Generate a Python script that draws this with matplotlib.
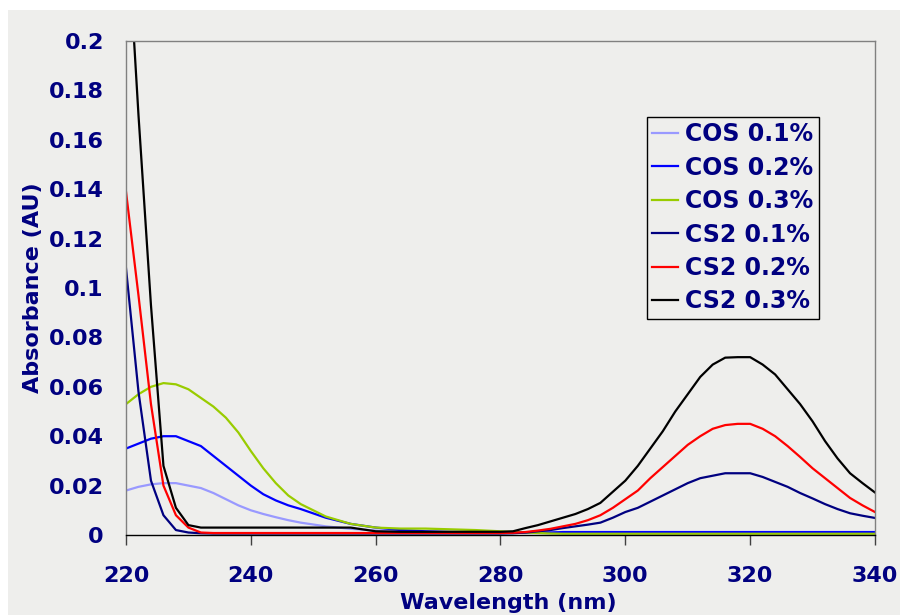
import numpy as np
import matplotlib.pyplot as plt
from matplotlib.patches import Rectangle

# Longitudes de onda (nm)
wavelength = [220, 222, 224, 226, 228, 230, 232, 234, 236, 238, 240, 242, 244, 246, 248,
              252, 256, 260, 264, 268, 272, 276, 280,
              282, 284, 286, 288, 290, 292, 294, 296, 298, 300, 302, 304, 306, 308, 310,
              312, 314, 316, 318, 320, 322, 324, 326, 328, 330, 332, 334, 336, 338, 340]

# Absorbancias (AU)
cos_01 = [0.018, 0.0195, 0.0205, 0.021, 0.021, 0.020, 0.019, 0.017, 0.0145, 0.012, 0.010, 0.0085, 0.0072, 0.006, 0.005,
          0.0035, 0.0025, 0.0018, 0.0014, 0.0012, 0.0011, 0.001, 0.001,
          0.001, 0.001, 0.001, 0.001, 0.001, 0.001, 0.001, 0.001, 0.001, 0.001, 0.001, 0.001, 0.001, 0.001, 0.001,
          0.001, 0.001, 0.001, 0.001, 0.001, 0.001, 0.001, 0.001, 0.001, 0.001, 0.001, 0.001, 0.001, 0.001, 0.001]
cos_02 = [0.035, 0.037, 0.039, 0.040, 0.040, 0.038, 0.036, 0.032, 0.028, 0.024, 0.020, 0.0165, 0.014, 0.012, 0.0105,
          0.007, 0.0045, 0.003, 0.002, 0.0015, 0.0012, 0.0011, 0.001,
          0.001, 0.001, 0.001, 0.001, 0.0012, 0.0012, 0.0012, 0.0012, 0.0012, 0.0012, 0.0012, 0.0012, 0.0012, 0.0012, 0.0012,
          0.0012, 0.0012, 0.0012, 0.0012, 0.0012, 0.0012, 0.0012, 0.0012, 0.0012, 0.0012, 0.0012, 0.0012, 0.0012, 0.0012, 0.0012]
cos_03 = [0.053, 0.057, 0.060, 0.0615, 0.061, 0.059, 0.0555, 0.052, 0.0475, 0.0415, 0.034, 0.027, 0.021, 0.016, 0.0125,
          0.0075, 0.0045, 0.003, 0.0026, 0.0026, 0.0023, 0.002, 0.0015,
          0.0012, 0.001, 0.0008, 0.0006, 0.0005, 0.0005, 0.0005, 0.0005, 0.0005, 0.0005, 0.0005, 0.0005, 0.0005, 0.0005, 0.0005,
          0.0005, 0.0005, 0.0005, 0.0005, 0.0005, 0.0005, 0.0005, 0.0005, 0.0005, 0.0005, 0.0005, 0.0005, 0.0005, 0.0005, 0.0005]
cs2_01 = [0.108, 0.058, 0.022, 0.008, 0.002, 0.001, 0.0007, 0.0006, 0.0006, 0.0006, 0.0006, 0.0006, 0.0006, 0.0006, 0.0006,
          0.0006, 0.0006, 0.0006, 0.0006, 0.0006, 0.0006, 0.0006, 0.0006,
          0.0007, 0.001, 0.0015, 0.002, 0.0028, 0.0035, 0.0042, 0.005, 0.007, 0.0093, 0.011, 0.0135, 0.016, 0.0185, 0.021,
          0.023, 0.024, 0.025, 0.025, 0.025, 0.0235, 0.0215, 0.0195, 0.017, 0.0148, 0.0125, 0.0105, 0.0088, 0.0078, 0.0069]
cs2_02 = [0.139, 0.097, 0.053, 0.020, 0.008, 0.003, 0.001, 0.0008, 0.0008, 0.0008, 0.0008, 0.0008, 0.0008, 0.0008, 0.0008,
          0.0008, 0.0008, 0.0008, 0.0008, 0.0008, 0.0008, 0.0008, 0.0008,
          0.0009, 0.0012, 0.0018, 0.0025, 0.0035, 0.0045, 0.006, 0.008, 0.011, 0.0145, 0.018, 0.023, 0.0275, 0.032, 0.0365,
          0.040, 0.043, 0.0445, 0.045, 0.045, 0.043, 0.040, 0.036, 0.0316, 0.027, 0.023, 0.019, 0.015, 0.012, 0.0093]
cs2_03 = [0.255, 0.170, 0.093, 0.028, 0.011, 0.004, 0.003, 0.003, 0.003, 0.003, 0.003, 0.003, 0.003, 0.003, 0.003,
          0.003, 0.003, 0.0015, 0.0013, 0.0013, 0.0013, 0.0013, 0.0013,
          0.0015, 0.0028, 0.004, 0.0055, 0.007, 0.0085, 0.0105, 0.013, 0.0175, 0.022, 0.028, 0.035, 0.042, 0.050, 0.057,
          0.064, 0.069, 0.0718, 0.072, 0.072, 0.069, 0.065, 0.059, 0.053, 0.046, 0.038, 0.031, 0.025, 0.021, 0.0172]

series = [('COS 0.1%', cos_01, '#9999FF'),
          ('COS 0.2%', cos_02, '#0000FF'),
          ('COS 0.3%', cos_03, '#99CC00'),
          ('CS2 0.1%', cs2_01, '#000080'),
          ('CS2 0.2%', cs2_02, '#FF0000'),
          ('CS2 0.3%', cs2_03, '#000000')]

navy = '#000080'
plt.rcParams['font.family'] = 'DejaVu Sans'
plt.rcParams['font.weight'] = 'bold'

fig = plt.figure(figsize=(9.04, 6.15), dpi=100, facecolor='white')
# fondo gris del grafico
fig.patches.append(Rectangle((8/904, 0), 1 - 12/904, 1 - 10/615, transform=fig.transFigure,
                             facecolor='#EEEEEC', edgecolor='none', zorder=-10))

ax = fig.add_axes([126/904, 80/615, 749/904, 494/615])
ax.set_facecolor('none')

for name, vals, col in series:
    ax.plot(wavelength, vals, color=col, lw=1.6, label=name)

ax.set_xlim(220, 340)
ax.set_ylim(0, 0.2)
ax.set_xticks(np.arange(220, 341, 20))
ax.set_yticks(np.arange(0, 0.201, 0.02))
ax.set_yticklabels(['0', '0.02', '0.04', '0.06', '0.08', '0.1', '0.12', '0.14', '0.16', '0.18', '0.2'])

for s in ['left', 'top', 'right']:
    ax.spines[s].set_color('#808080')
    ax.spines[s].set_linewidth(1)
ax.spines['bottom'].set_color('black')
ax.spines['bottom'].set_linewidth(1)

ax.tick_params(axis='x', direction='out', length=7, width=1, color='#404040', pad=15,
               labelsize=16, labelcolor=navy)
ax.tick_params(axis='y', length=0, pad=16, labelsize=16, labelcolor=navy)
for lab in ax.get_xticklabels() + ax.get_yticklabels():
    lab.set_fontweight('bold')

ax.set_xlabel('Wavelength (nm)', fontsize=16, fontweight='bold', color=navy)
ax.set_ylabel('Absorbance (AU)', fontsize=16, fontweight='bold', color=navy)
ax.xaxis.set_label_coords(0.511, -0.117)
ax.yaxis.set_label_coords(-0.111, 0.5)

leg = ax.legend(loc='upper left', bbox_to_anchor=(0.696, 0.846), borderaxespad=0,
                fancybox=False, frameon=True, prop={'size': 17, 'weight': 'bold'},
                handlelength=1.1, handletextpad=0.28, labelspacing=0.40, borderpad=0.22)
leg.get_frame().set_edgecolor('black')
leg.get_frame().set_linewidth(1)
leg.get_frame().set_facecolor('#EEEEEC')
leg.get_frame().set_alpha(1)
for t in leg.get_texts():
    t.set_color(navy)

fig.savefig('out.png', dpi=100, facecolor=fig.get_facecolor())
